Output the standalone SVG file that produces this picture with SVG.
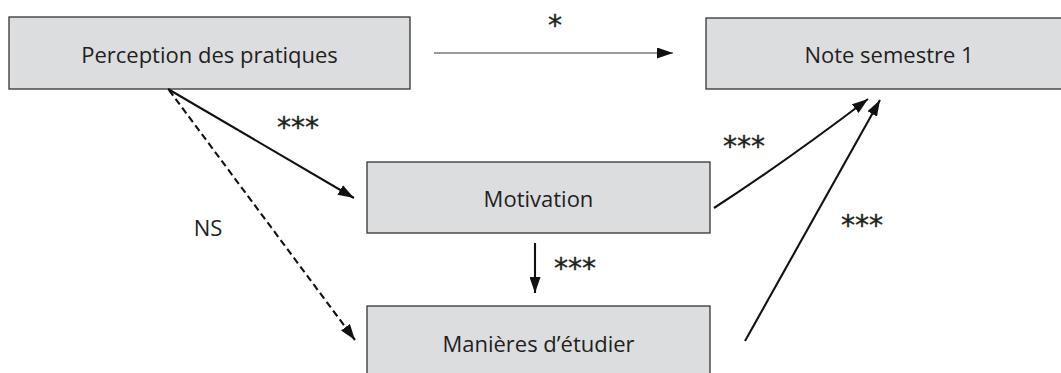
<svg xmlns="http://www.w3.org/2000/svg" width="1061" height="373" viewBox="0 0 1061 373">
<style>
.box{fill:#dcdddf;stroke:#333;stroke-width:1.3}
.lbl{font-family:"Open Sans","Noto Sans",sans-serif;font-size:22px;fill:#231f20;text-anchor:middle;font-variant-ligatures:none}
.st{font-family:"DejaVu Sans",sans-serif;font-size:28px;fill:#231f20;stroke:#231f20;stroke-width:0.4;text-anchor:middle}
.ln{fill:none;stroke:#111;stroke-width:2.1}
</style>
<defs>
<marker id="ah" viewBox="0 0 16 11" refX="16" refY="5.5" markerWidth="16" markerHeight="11" markerUnits="userSpaceOnUse" orient="auto">
<path d="M0,0 L16,5.5 L0,11 Z" fill="#111"/>
</marker>
</defs>
<rect width="1061" height="373" fill="#fff"/>
<g id="n-perception"><rect class="box" x="9" y="17" width="401" height="72"/><text class="lbl" x="209.5" y="63">Perception des pratiques</text></g>
<g id="n-note"><rect class="box" x="706" y="18" width="370" height="71"/><text class="lbl" x="889" y="63">Note semestre 1</text></g>
<g id="n-motivation"><rect class="box" x="367" y="162" width="343" height="71"/><text class="lbl" x="538.5" y="207">Motivation</text></g>
<g id="n-manieres"><rect class="box" x="367" y="306" width="343" height="72"/><text class="lbl" x="538.5" y="352">Manières d’étudier</text></g>
<g id="connectors">
<line x1="434" y1="53" x2="673" y2="53" stroke="#777" stroke-width="1.6" marker-end="url(#ah)"/>
<line class="ln" x1="168" y1="89" x2="354" y2="198" marker-end="url(#ah)"/>
<line class="ln" x1="169" y1="90" x2="355" y2="340" stroke-dasharray="7,4" marker-end="url(#ah)"/>
<line class="ln" x1="535" y1="243" x2="535" y2="293" marker-end="url(#ah)"/>
<path class="ln" d="M714,208 Q785,162 868,99" marker-end="url(#ah)"/>
<line class="ln" x1="745" y1="341" x2="880" y2="100" marker-end="url(#ah)"/>
</g>
<g id="labels">
<text class="st" x="555" y="35">*</text>
<text class="st" x="298" y="137">***</text>
<text class="lbl" x="208" y="236">NS</text>
<text class="st" x="575" y="278">***</text>
<text class="st" x="744" y="156">***</text>
<text class="st" x="862" y="235">***</text>
</g>
</svg>
